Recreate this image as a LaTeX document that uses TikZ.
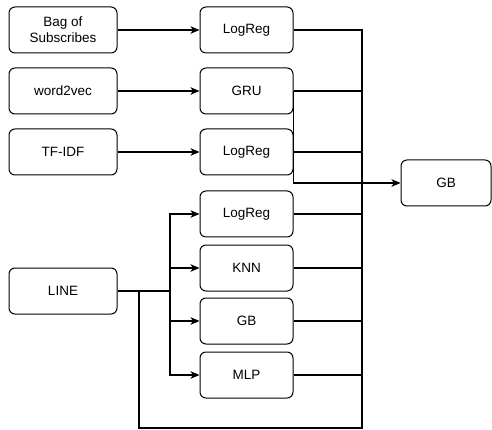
\documentclass[tikz,border=0pt]{standalone}
\usepackage{fontspec}
\setmainfont{Liberation Sans}
\usetikzlibrary{arrows.meta}
\begin{document}
\begin{tikzpicture}[x=1pt,y=-1pt,
  box/.style={draw,line width=1pt,rounded corners=6pt,align=center,inner sep=0pt,
    minimum height=46pt,font=\fontsize{13.5}{16}\selectfont},
  lbox/.style={box,minimum width=108pt},
  mbox/.style={box,minimum width=93pt},
  conn/.style={line width=1.1pt},
  arr/.style={conn,-{Stealth[length=9pt,width=7.5pt,inset=2.5pt]}}]
\useasboundingbox (0,0) rectangle (492,430);
% left column
\node[lbox] (bag) at (63,30) {Bag of\\Subscribes};
\node[lbox] (w2v) at (63,91) {word2vec};
\node[lbox] (tfidf) at (63,152) {TF-IDF};
\node[lbox] (line) at (63,291) {LINE};
% middle column
\node[mbox] (lr1) at (246.5,30) {LogReg};
\node[mbox] (gru) at (246.5,91) {GRU};
\node[mbox] (lr2) at (246.5,152) {LogReg};
\node[mbox] (lr3) at (246.5,214) {LogReg};
\node[mbox] (knn) at (246.5,268) {KNN};
\node[mbox] (gbm) at (246.5,321) {GB};
\node[mbox] (mlp) at (246.5,375) {MLP};
% right
\node[box,minimum width=90pt] (gb) at (446,183) {GB};
% helper coordinates
\coordinate (jx) at (362,183);
\coordinate (lx) at (170,291);
\coordinate (bl) at (139,428);
% edges
\draw[arr] (bag) -- (lr1);
\draw[arr] (w2v) -- (gru);
\draw[arr] (tfidf) -- (lr2);
\draw[conn] (lr1.east) -| (jx);
\draw[conn] (gru.east) -| (jx);
\draw[conn] (gru.east) |- (jx);
\draw[conn] (lr2.east) -| (jx);
\draw[conn] (lr3.east) -| (jx);
\draw[conn] (knn.east) -| (jx);
\draw[conn] (gbm.east) -| (jx);
\draw[conn] (mlp.east) -| (jx);
\draw[arr] (jx) -- (gb.west);
\draw[arr] (line.east) -- (lx) |- (lr3.west);
\draw[arr] (line.east) -- (lx) |- (knn.west);
\draw[arr] (line.east) -- (lx) |- (gbm.west);
\draw[arr] (line.east) -- (lx) |- (mlp.west);
\draw[conn] (line.east) -| (bl) -| (jx);
\end{tikzpicture}
\end{document}
